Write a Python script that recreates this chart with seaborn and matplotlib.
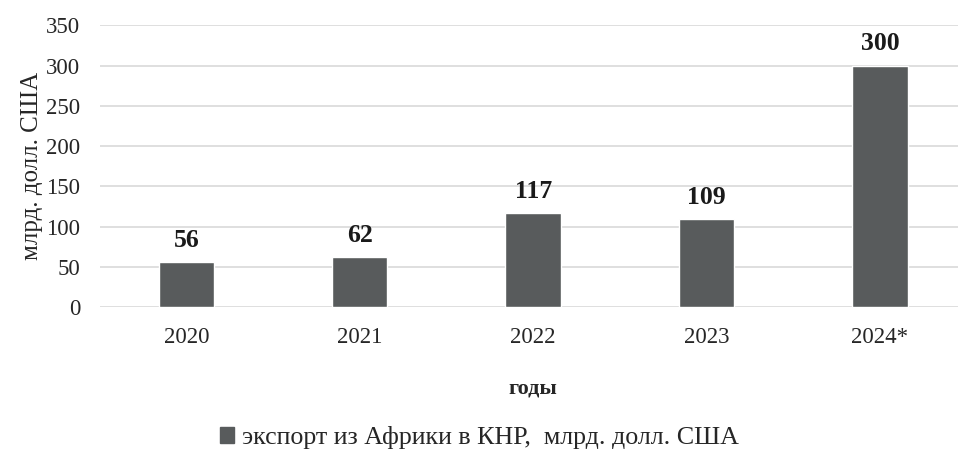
import pandas as pd
import matplotlib
matplotlib.use('Agg')
import matplotlib.pyplot as plt
import seaborn as sns
from matplotlib.patches import Patch

years = ['2020', '2021', '2022', '2023', '2024*']
export = [56, 62, 117, 109, 300]
series_name = 'экспорт из Африки в КНР,  млрд. долл. США'

df = pd.DataFrame({'year': years, 'value': export})

sns.set_style('white')
plt.rcParams['font.family'] = ['Liberation Serif', 'DejaVu Serif']

bar_color = '#585b5c'

fig = plt.figure(figsize=(9.58, 4.5), dpi=100)
ax = fig.add_axes([0.104, 0.317, 0.905, 0.627])

sns.barplot(data=df, x='year', y='value', color=bar_color, width=0.32,
            saturation=1, ax=ax, zorder=3)

# value labels over bars
for i, v in enumerate(export):
    ax.text(i, v + 13, str(v), ha='center', va='bottom', fontsize=18.5,
            fontweight='bold', color='#1a1a1a')

ax.set_ylim(0, 350)
ax.set_yticks(range(0, 351, 50))
ax.yaxis.grid(True, color='#d9d9d9', linewidth=1.2, zorder=0)
ax.xaxis.grid(False)
for s in ax.spines.values():
    s.set_visible(False)
ax.tick_params(axis='both', length=0, labelsize=16.5, colors='#262626')
ax.tick_params(axis='x', pad=14)
ax.tick_params(axis='y', pad=14)

ax.set_ylabel('млрд. долл. США', fontsize=18, color='#262626', labelpad=2)
ax.set_xlabel('годы', fontsize=16, fontweight='bold', color='#262626', labelpad=22)

handle = Patch(facecolor=bar_color, edgecolor=bar_color)
fig.legend([handle], [series_name], loc='center', bbox_to_anchor=(0.5, 0.027),
           frameon=False, fontsize=18.7, handlelength=0.55, handleheight=0.55,
           handletextpad=0.3)

fig.savefig('out.png', dpi=100)
